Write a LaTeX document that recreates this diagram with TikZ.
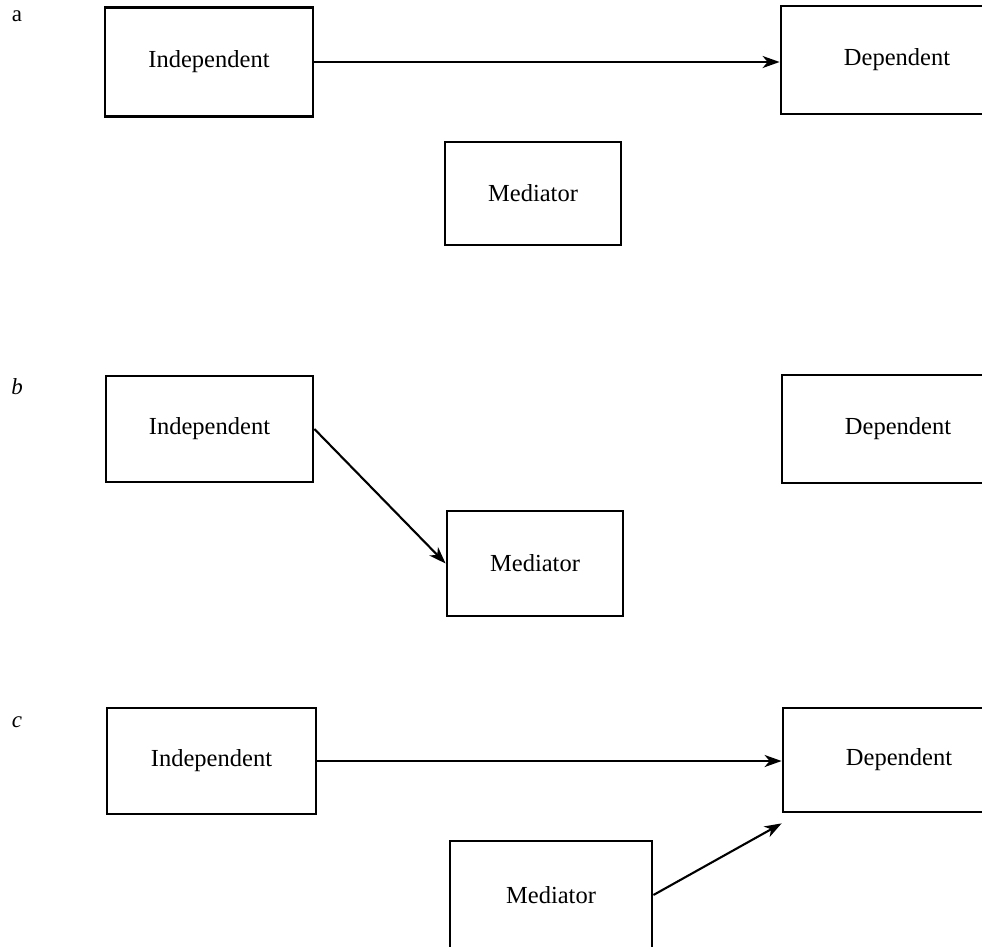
\documentclass[tikz,border=0pt]{standalone}
\usepackage{fontspec}
\setmainfont{Liberation Serif}
\usetikzlibrary{arrows.meta}
\begin{document}
\begin{tikzpicture}[x=1pt,y=-1pt,
  varbox/.style={draw, line width=2.8pt, inner sep=0pt,
    font=\fontsize{24.5}{29}\selectfont},
  link/.style={line width=2.1pt,
    -{Stealth[length=17pt,width=12pt,inset=5pt]}},
  panel/.style={inner sep=0pt, font=\fontsize{23}{27}\selectfont}]
\useasboundingbox (0,0) rectangle (982,946);
\clip (0,0) rectangle (982,946);

% panel a: direct path only
\node[panel] (la) at (17,16) {a};
\node[varbox, minimum width=208, minimum height=109] (indA) at (209,62) {Independent};
\node[varbox, minimum width=232, minimum height=108] (depA) at (897,60) {Dependent};
\node[varbox, minimum width=176, minimum height=103] (medA) at (533,193.5) {Mediator};
\draw[link] (indA.east) -- (indA.east -| depA.west);

% panel b: independent to mediator
\node[panel] (lb) at (17,387) {\itshape b};
\node[varbox, minimum width=207, minimum height=106] (indB) at (209.5,429) {Independent};
\node[varbox, minimum width=232, minimum height=108] (depB) at (898,429) {Dependent};
\node[varbox, minimum width=176, minimum height=105] (medB) at (535,563.5) {Mediator};
\draw[link] (indB.east) -- (medB.west);

% panel c: both paths into the dependent variable
\node[panel] (lc) at (17,722) {\itshape c};
\node[varbox, minimum width=209, minimum height=106] (indC) at (211.5,761) {Independent};
\node[varbox, minimum width=232, minimum height=104] (depC) at (899,760) {Dependent};
\node[varbox, minimum width=202, minimum height=108] (medC) at (551,895) {Mediator};
\coordinate (depCin) at ([yshift=-10pt]depC.south west);
\draw[link] (indC.east) -- (indC.east -| depC.west);
\draw[link] (medC.east) -- (depCin);
\end{tikzpicture}
\end{document}
